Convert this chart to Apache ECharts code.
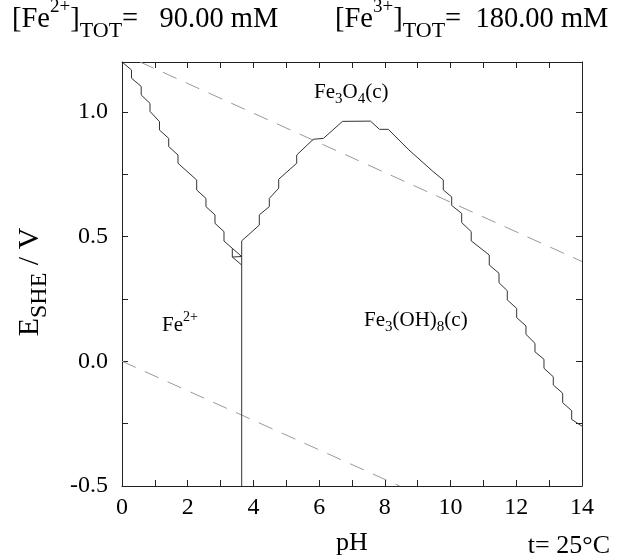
<!DOCTYPE html>
<html>
<head>
<meta charset="utf-8">
<script src="https://cdn.jsdelivr.net/npm/echarts@6/dist/echarts.min.js"></script>
<style>html,body{margin:0;padding:0;background:#fff}#c{width:623px;height:558px}</style>
</head>
<body>
<div id="c"></div>
<script>
// pH / E(V) vertices
const lineFe2Fe3O4 = [
  [0.0,1.200],[0.289,1.168],[0.289,1.135],[0.584,1.102],[0.584,1.068],[0.852,1.034],[0.852,1.002],
  [1.141,0.961],[1.141,0.927],[1.421,0.894],[1.421,0.861],[1.704,0.827],[1.704,0.794],
  [2.273,0.727],[2.273,0.687],[2.556,0.653],[2.556,0.620],[2.830,0.587],[2.830,0.553],
  [3.104,0.520],[3.104,0.482],[3.357,0.453],[3.643,0.420]
];
const lineSmallTriangle = [
  [3.643,0.420],[3.357,0.418],[3.357,0.453]
];
const lineSmallTail = [
  [3.357,0.418],[3.643,0.386]
];
const lineVertical = [
  [3.643,0.483],[3.643,-0.5]
];
const lineFe3O4Fe3OH8 = [
  [3.643,0.483],[4.179,0.546],[4.179,0.587],[4.483,0.620],[4.483,0.653],[4.769,0.694],[4.769,0.730],
  [5.317,0.794],[5.317,0.827],[5.822,0.890],[6.133,0.894],[6.711,0.962],[7.563,0.963],
  [7.837,0.930],[8.105,0.930],[8.735,0.847],[9.474,0.760],[9.779,0.727],[9.779,0.687],
  [10.034,0.659],[10.034,0.625],[10.338,0.593],[10.338,0.556],[10.628,0.520],[10.628,0.483],
  [11.178,0.426],[11.178,0.386],[11.474,0.353],[11.474,0.315],[11.726,0.283],[11.726,0.246],
  [12.012,0.212],[12.012,0.175],[12.295,0.142],[12.295,0.108],[12.569,0.072],[12.569,0.038],
  [12.843,0.008],[12.843,-0.028],[13.126,-0.062],[13.126,-0.095],[13.412,-0.128],[13.412,-0.166],
  [13.686,-0.198],[13.686,-0.233],[13.939,-0.255],[14.0,-0.260]
];
const waterUpper = [[0.55,1.2],[14.0,0.40]];
const waterLower = [[0.0,0.0],[8.45,-0.5]];

const xTicks = [0,2,4,6,8,10,12,14];
const yTicks = [-0.5,0.0,0.5,1.0];

const FONT = 'Liberation Serif';
const chart = echarts.init(document.getElementById('c'));

const axisCommon = {
  axisLine: {show: true, onZero: false, lineStyle: {color: '#222', width: 1}},
  axisTick: {show: true, inside: true, length: 6, lineStyle: {color: '#222', width: 1}},
  splitLine: {show: false}
};

function solid(data) {
  return {type: 'line', data: data, symbol: 'none', silent: true, animation: false,
    lineStyle: {color: '#333', width: 1}, xAxisIndex: 0, yAxisIndex: 0};
}
function dashed(data) {
  return {type: 'line', data: data, symbol: 'none', silent: true, animation: false,
    lineStyle: {color: '#999', width: 1, type: [15, 10]}, xAxisIndex: 0, yAxisIndex: 0};
}

function makeRich(main, sup, sub, lh) {
  return {
    n: {fontFamily: FONT, fontSize: main, lineHeight: lh, verticalAlign: 'middle', fill: '#000'},
    sup: {fontFamily: FONT, fontSize: sup, lineHeight: sup, verticalAlign: 'top', fill: '#000'},
    sub: {fontFamily: FONT, fontSize: sub, lineHeight: sub, verticalAlign: 'bottom', fill: '#000'}
  };
}
const titleRich = makeRich(28.5, 19, 22, 44);
const ylabRich = makeRich(30, 19, 24, 44);
const axRich = makeRich(26, 18, 20, 32);
const inRich = makeRich(21, 14, 15, 29);

function txt(x, y, text, rich, align, rotation) {
  return {type: 'text', x: x, y: y, rotation: rotation || 0, silent: true,
    style: {text: text, rich: rich, align: align || 'left', verticalAlign: 'middle', fill: '#000'}};
}

chart.setOption({
  animation: false,
  backgroundColor: '#fff',
  grid: {left: 122, right: 41, top: 62, bottom: 72},
  xAxis: [
    Object.assign({type: 'value', min: 0, max: 14, interval: 1, position: 'bottom',
      axisLabel: {show: true, fontFamily: FONT, fontSize: 24, color: '#000', margin: 10,
        formatter: v => xTicks.indexOf(v) >= 0 ? String(v) : ''}}, axisCommon),
    Object.assign({type: 'value', min: 0, max: 14, interval: 1, position: 'top',
      axisLabel: {show: false}}, axisCommon)
  ],
  yAxis: [
    Object.assign({type: 'value', min: -0.5, max: 1.2, interval: 0.25, position: 'left',
      axisLabel: {show: true, fontFamily: FONT, fontSize: 24, color: '#000', margin: 14,
        formatter: v => yTicks.some(t => Math.abs(t - v) < 1e-6) ? v.toFixed(1) : ''}}, axisCommon),
    Object.assign({type: 'value', min: -0.5, max: 1.2, interval: 0.25, position: 'right',
      axisLabel: {show: false}}, axisCommon)
  ],
  series: [
    dashed(waterUpper),
    dashed(waterLower),
    solid(lineFe2Fe3O4),
    solid(lineSmallTriangle),
    solid(lineSmallTail),
    solid(lineVertical),
    solid(lineFe3O4Fe3OH8)
  ],
  graphic: [
    txt(12, 20, '{n|[Fe}{sup|2+}{n|]}{sub|TOT}{n|=   90.00 mM}', titleRich),
    txt(335, 20, '{n|[Fe}{sup|3+}{n|]}{sub|TOT}{n|=  180.00 mM}', titleRich),
    txt(30, 282, '{n|E}{sub|SHE}{n| / V}', ylabRich, 'center', Math.PI / 2),
    txt(352, 543, '{n|pH}', axRich, 'center'),
    txt(610, 546, '{n|t= 25°C}', axRich, 'right'),
    txt(314, 92, '{n|Fe}{sub|3}{n|O}{sub|4}{n|(c)}', inRich),
    txt(162, 325, '{n|Fe}{sup|2+}', inRich),
    txt(364, 320, '{n|Fe}{sub|3}{n|(OH)}{sub|8}{n|(c)}', inRich)
  ]
});
</script>
</body>
</html>
